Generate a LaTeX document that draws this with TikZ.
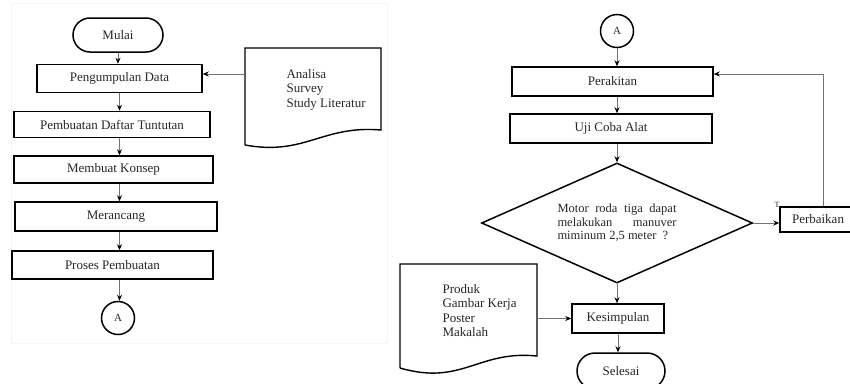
\documentclass[tikz,border=0pt]{standalone}
\usepackage{fontspec}
\setmainfont{Liberation Serif}
\usetikzlibrary{arrows,arrows.meta,shapes,calc,positioning}

\begin{document}
\begin{tikzpicture}[x=1pt,y=-1pt]
		\tikzstyle{every node}=[font=\fontsize{13}{14.5}\selectfont, text=black!85]
		\tikzstyle{proses}=[draw, line width=1.5pt, minimum height=28pt, inner sep=0pt]
		\tikzstyle{terminal}=[draw, rounded rectangle, line width=1.5pt, minimum width=90pt, minimum height=34pt, inner sep=0pt]
		\tikzstyle{konektor}=[draw, circle, line width=1.5pt, minimum size=33pt, inner sep=0pt, font=\fontsize{11}{12}\selectfont]
		\tikzstyle{garis}=[draw=black!55, line width=0.7pt, -{Stealth[length=6pt,width=5pt,black]}]
		\useasboundingbox (0,0) rectangle (850,383);
		\draw [gray!8, line width=1pt] (11,3) rectangle (387,343);
		% kolom kiri
		\node [terminal] (mulai) at (118,35) {Mulai};
		\node [proses, minimum width=165pt] (pengumpulan) at (119.5,78.5) {Pengumpulan Data};
		\node [proses, minimum width=196pt, minimum height=26pt] (daftar) at (112,124.5) {Pembuatan Daftar Tuntutan};
		\node [proses, minimum width=199pt, minimum height=27pt] (konsep) at (113.5,169.5) {Membuat Konsep};
		\node [proses, minimum width=202pt, minimum height=29pt] (merancang) at (116,216.5) {Merancang};
		\node [proses, minimum width=201pt] (pembuatan) at (112.5,265) {Proses Pembuatan};
		\node [konektor] (akiri) at (118,318) {A};
		\draw [line width=1.4pt] (245,145) -- (245,48) -- (381,48) -- (381,130) .. controls (322,125) and (305,156) .. (245,145);
		\node [anchor=west, align=left] (analisa) at (283,89.5) {Analisa\\Survey\\Study Literatur};
		\coordinate (analisaKiri) at (245,74);
		\draw [garis] (mulai.south) -- (mulai.south |- pengumpulan.north);
		\draw [garis] (analisaKiri) -- (pengumpulan.east |- analisaKiri);
		\draw [garis] (pengumpulan.south) -- (pengumpulan.south |- daftar.north);
		\draw [garis] (pengumpulan.south |- daftar.south) -- (pengumpulan.south |- konsep.north);
		\draw [garis] (pengumpulan.south |- konsep.south) -- (pengumpulan.south |- merancang.north);
		\draw [garis] (pengumpulan.south |- merancang.south) -- (pengumpulan.south |- pembuatan.north);
		\draw [garis] (pengumpulan.south |- pembuatan.south) -- (pengumpulan.south |- akiri.north);
		% kolom kanan
		\node [konektor] (akanan) at (617,31) {A};
		\node [proses, minimum width=201pt, minimum height=29pt] (perakitan) at (612.5,81.5) {Perakitan};
		\node [proses, minimum width=202pt, minimum height=29pt] (uji) at (611,128.5) {Uji Coba Alat};
		\node [draw, diamond, aspect=2.26, line width=1.5pt, minimum width=271pt, minimum height=120pt, inner sep=0pt, font=\fontsize{12.5}{13.5}\selectfont] (keputusan) at (617,223)
			{\parbox{119pt}{\makebox[119pt][s]{Motor roda tiga dapat}\\\makebox[119pt][s]{melakukan manuver}\\miminum 2,5 meter\ \ ?}};
		\node [proses, minimum width=76pt, minimum height=25pt] (perbaikan) at (818,219.5) {Perbaikan};
		\node [font=\fontsize{8}{9}\selectfont, inner sep=0pt] (labelT) at (777,205) {T};
		\node [proses, minimum width=92pt, minimum height=29pt] (kesimpulan) at (618,318.5) {Kesimpulan};
		\node [terminal, minimum width=88pt, minimum height=36pt] (selesai) at (621,371) {Selesai};
		\draw [line width=1.4pt] (400,368) -- (400,264) -- (537,264) -- (537,356) .. controls (478,350) and (462,386) .. (400,368);
		\node [anchor=west, align=left] (produk) at (439,310.5) {Produk\\Gambar Kerja\\Poster\\Makalah};
		\coordinate (produkKanan) at (537,318.5);
		\coordinate (balik) at (823,74);
		\draw [garis] (akanan.south) -- (akanan.south |- perakitan.north);
		\draw [garis] (akanan.south |- perakitan.south) -- (akanan.south |- uji.north);
		\draw [garis] (akanan.south |- uji.south) -- (keputusan.north);
		\draw [garis] (keputusan.east) -- (perbaikan.west |- keputusan.east);
		\draw [garis] (perbaikan.north -| balik) |- (perakitan.east |- balik);
		\draw [garis] (keputusan.south) -- (keputusan.south |- kesimpulan.north);
		\draw [garis] (produkKanan) -- (kesimpulan.west);
		\draw [garis] (kesimpulan.south) -- (kesimpulan.south |- selesai.north);
	\end{tikzpicture}
\end{document}
